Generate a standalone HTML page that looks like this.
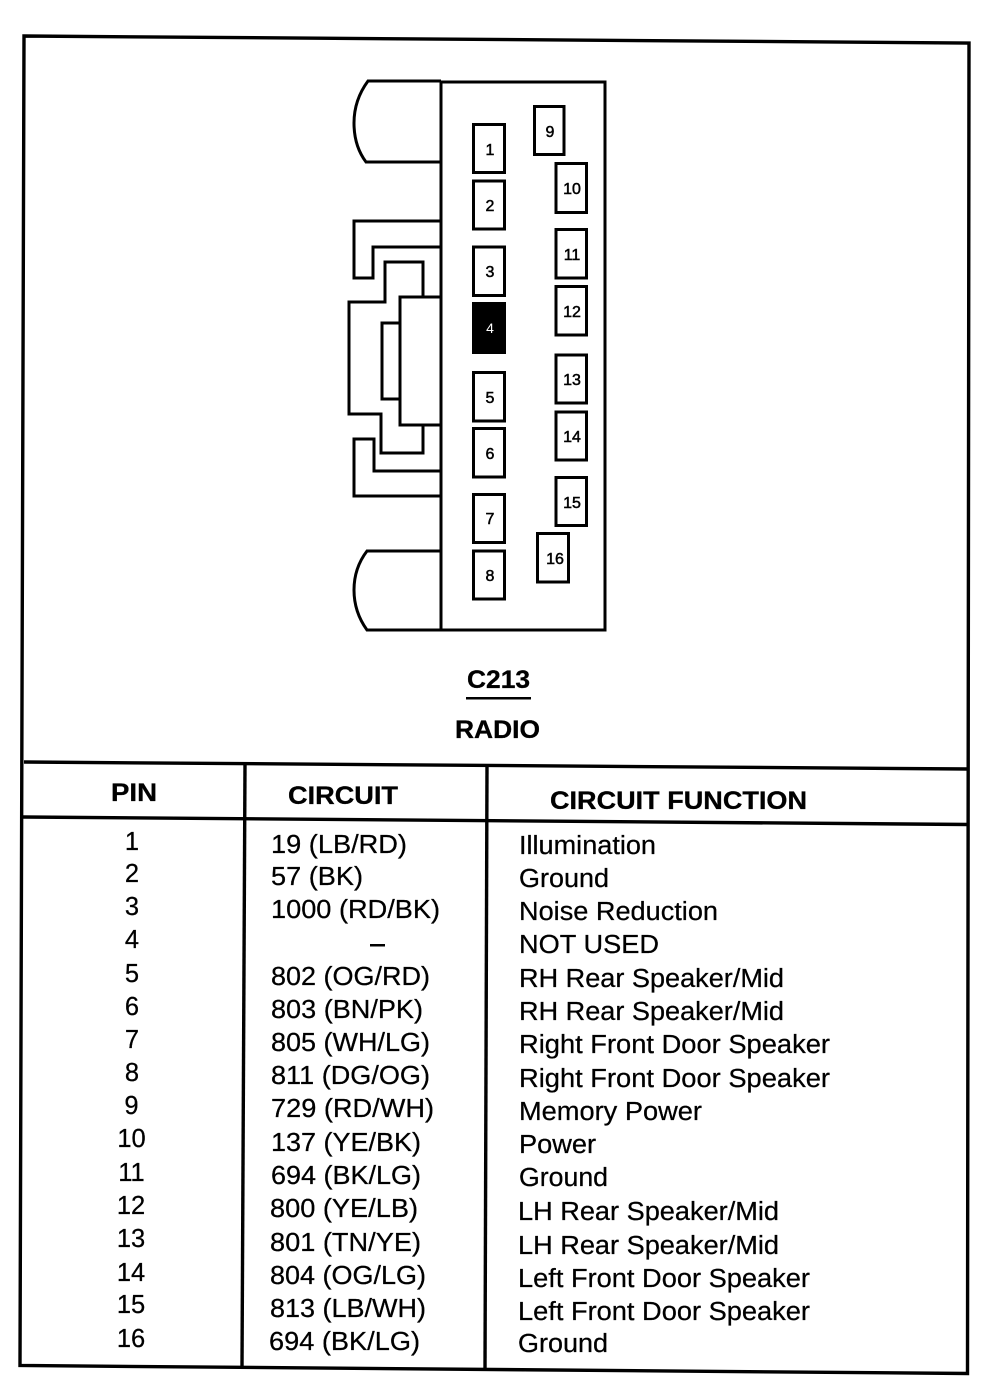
<!DOCTYPE html>
<html><head><meta charset="utf-8"><style>
html,body{margin:0;padding:0;background:#fff}
svg{display:block}
text{font-family:"Liberation Sans",Arial,sans-serif;fill:#000;stroke:#000;stroke-width:.25}
.t{font-size:25.5px}
.b{font-size:25px;font-weight:bold;stroke-width:.3}
.p{font-size:16px;stroke-width:.5;text-anchor:middle}
</style></head><body>
<svg width="994" height="1392" viewBox="0 0 994 1392" xmlns="http://www.w3.org/2000/svg">
<g fill="none" stroke="#000" stroke-width="3.4">
<path d="M24 36 L969 43 L967.5 1373.5 L20 1365.5 Z"/>
<path d="M24 762 L969 769"/>
<path d="M23 817 L969 824.5"/>
<path d="M245 764 L242 1367"/>
<path d="M487 766 L485 1369"/>
</g>
<g fill="none" stroke="#000" stroke-width="3" stroke-linejoin="miter">
<path d="M441 82 H605 V630 H441 Z"/>
<path d="M441 81 H368 Q354 100 354 123 Q354 146 366 162 H441"/>
<path d="M441 551 H367 Q354 568 354 590 Q354 612 367 630 H441"/>
<path d="M441 221 H354 V278 H373 V247 H441"/>
<path d="M423 297 V262 H385 V302 H349 V414 H381 V453 H423 V425"/>
<path d="M441 297 H400 V425 H441"/>
<path d="M400 323 H382 V399 H400"/>
<path d="M441 471 H374 V439 H354 V496 H441"/>
<g fill="#fff">
<rect x="473.5" y="124.5" width="31" height="48"/>
<rect x="473.5" y="181" width="31" height="48"/>
<rect x="473.5" y="247" width="31" height="48.500"/>
<rect x="473.5" y="303.500" width="31" height="49" fill="#000"/>
<rect x="473.5" y="372.500" width="31" height="48.500"/>
<rect x="473.5" y="428.500" width="31" height="48.500"/>
<rect x="473.5" y="494.500" width="31" height="48"/>
<rect x="473.5" y="551" width="31" height="48"/>
<rect x="534.500" y="106.500" width="29.500" height="48"/>
<rect x="556" y="163.500" width="30.500" height="49"/>
<rect x="556" y="229.500" width="30.500" height="48.500"/>
<rect x="556" y="286.500" width="30.500" height="48.500"/>
<rect x="556" y="355" width="30.500" height="48"/>
<rect x="556" y="412" width="30.500" height="48"/>
<rect x="556" y="477.500" width="30.500" height="48"/>
<rect x="537.500" y="533.500" width="31" height="48.500"/>
</g>
</g>
<g class="pins">
<text class="p" x="490" y="155">1</text>
<text class="p" x="490" y="211">2</text>
<text class="p" x="490" y="277">3</text>
<text class="p" x="490" y="333" style="fill:#fff;stroke:none;font-size:14px">4</text>
<text class="p" x="490" y="403">5</text>
<text class="p" x="490" y="459">6</text>
<text class="p" x="490" y="524">7</text>
<text class="p" x="490" y="581">8</text>
<text class="p" x="550" y="137">9</text>
<text class="p" x="572" y="194">10</text>
<text class="p" x="572" y="260">11</text>
<text class="p" x="572" y="317">12</text>
<text class="p" x="572" y="385">13</text>
<text class="p" x="572" y="442">14</text>
<text class="p" x="572" y="508">15</text>
<text class="p" x="555" y="564">16</text>
</g>
<text class="b" x="467" y="688" textLength="63" lengthAdjust="spacingAndGlyphs">C213</text>
<rect x="466" y="697" width="65" height="2.500" fill="#000"/>
<text class="b" x="455" y="738" textLength="85" lengthAdjust="spacingAndGlyphs">RADIO</text>
<text class="b" x="111" y="801" textLength="46" lengthAdjust="spacingAndGlyphs">PIN</text>
<text class="b" x="288" y="804" textLength="110" lengthAdjust="spacingAndGlyphs">CIRCUIT</text>
<text class="b" x="550" y="809" textLength="257" lengthAdjust="spacingAndGlyphs">CIRCUIT FUNCTION</text>

<g class="t" text-anchor="middle">
<text x="132" y="850">1</text>
<text x="132" y="882">2</text>
<text x="132" y="915">3</text>
<text x="132" y="948">4</text>
<text x="132" y="982">5</text>
<text x="132" y="1015">6</text>
<text x="132" y="1048">7</text>
<text x="132" y="1081">8</text>
<text x="131.500" y="1114">9</text>
<text x="131.500" y="1147">10</text>
<text x="131.500" y="1181">11</text>
<text x="131" y="1214">12</text>
<text x="131" y="1247">13</text>
<text x="131" y="1281">14</text>
<text x="131" y="1313">15</text>
<text x="131" y="1347">16</text>
</g>

<g class="t">
<text x="271" y="853" textLength="136" lengthAdjust="spacingAndGlyphs">19 (LB/RD)</text>
<text x="271" y="885" textLength="92" lengthAdjust="spacingAndGlyphs">57 (BK)</text>
<text x="271" y="918" textLength="169" lengthAdjust="spacingAndGlyphs">1000 (RD/BK)</text>
<rect x="370" y="944" width="15" height="2.500" fill="#000"/>
<text x="271" y="985" textLength="159" lengthAdjust="spacingAndGlyphs">802 (OG/RD)</text>
<text x="271" y="1018" textLength="152" lengthAdjust="spacingAndGlyphs">803 (BN/PK)</text>
<text x="271" y="1051" textLength="159" lengthAdjust="spacingAndGlyphs">805 (WH/LG)</text>
<text x="271" y="1084" textLength="159" lengthAdjust="spacingAndGlyphs">811 (DG/OG)</text>
<text x="271" y="1117" textLength="163" lengthAdjust="spacingAndGlyphs">729 (RD/WH)</text>
<text x="271" y="1151" textLength="150" lengthAdjust="spacingAndGlyphs">137 (YE/BK)</text>
<text x="271" y="1184" textLength="150" lengthAdjust="spacingAndGlyphs">694 (BK/LG)</text>
<text x="270" y="1217" textLength="148" lengthAdjust="spacingAndGlyphs">800 (YE/LB)</text>
<text x="270" y="1251" textLength="151" lengthAdjust="spacingAndGlyphs">801 (TN/YE)</text>
<text x="270" y="1284" textLength="156" lengthAdjust="spacingAndGlyphs">804 (OG/LG)</text>
<text x="270" y="1317" textLength="156" lengthAdjust="spacingAndGlyphs">813 (LB/WH)</text>
<text x="269" y="1350" textLength="151" lengthAdjust="spacingAndGlyphs">694 (BK/LG)</text>
</g>

<g class="t">
<text x="519" y="854" textLength="137" lengthAdjust="spacingAndGlyphs">Illumination</text>
<text x="519" y="887" textLength="90" lengthAdjust="spacingAndGlyphs">Ground</text>
<text x="519" y="920" textLength="199" lengthAdjust="spacingAndGlyphs">Noise Reduction</text>
<text x="519" y="953" textLength="140" lengthAdjust="spacingAndGlyphs">NOT USED</text>
<text x="519" y="987" textLength="265" lengthAdjust="spacingAndGlyphs">RH Rear Speaker/Mid</text>
<text x="519" y="1020" textLength="265" lengthAdjust="spacingAndGlyphs">RH Rear Speaker/Mid</text>
<text x="519" y="1053" textLength="311" lengthAdjust="spacingAndGlyphs">Right Front Door Speaker</text>
<text x="519" y="1087" textLength="311" lengthAdjust="spacingAndGlyphs">Right Front Door Speaker</text>
<text x="519" y="1120" textLength="183" lengthAdjust="spacingAndGlyphs">Memory Power</text>
<text x="519" y="1153" textLength="77" lengthAdjust="spacingAndGlyphs">Power</text>
<text x="519" y="1186" textLength="89" lengthAdjust="spacingAndGlyphs">Ground</text>
<text x="518" y="1220" textLength="261" lengthAdjust="spacingAndGlyphs">LH Rear Speaker/Mid</text>
<text x="518" y="1254" textLength="261" lengthAdjust="spacingAndGlyphs">LH Rear Speaker/Mid</text>
<text x="518" y="1287" textLength="292" lengthAdjust="spacingAndGlyphs">Left Front Door Speaker</text>
<text x="518" y="1320" textLength="292" lengthAdjust="spacingAndGlyphs">Left Front Door Speaker</text>
<text x="518" y="1352" textLength="90" lengthAdjust="spacingAndGlyphs">Ground</text>
</g>
</svg>
</body></html>
